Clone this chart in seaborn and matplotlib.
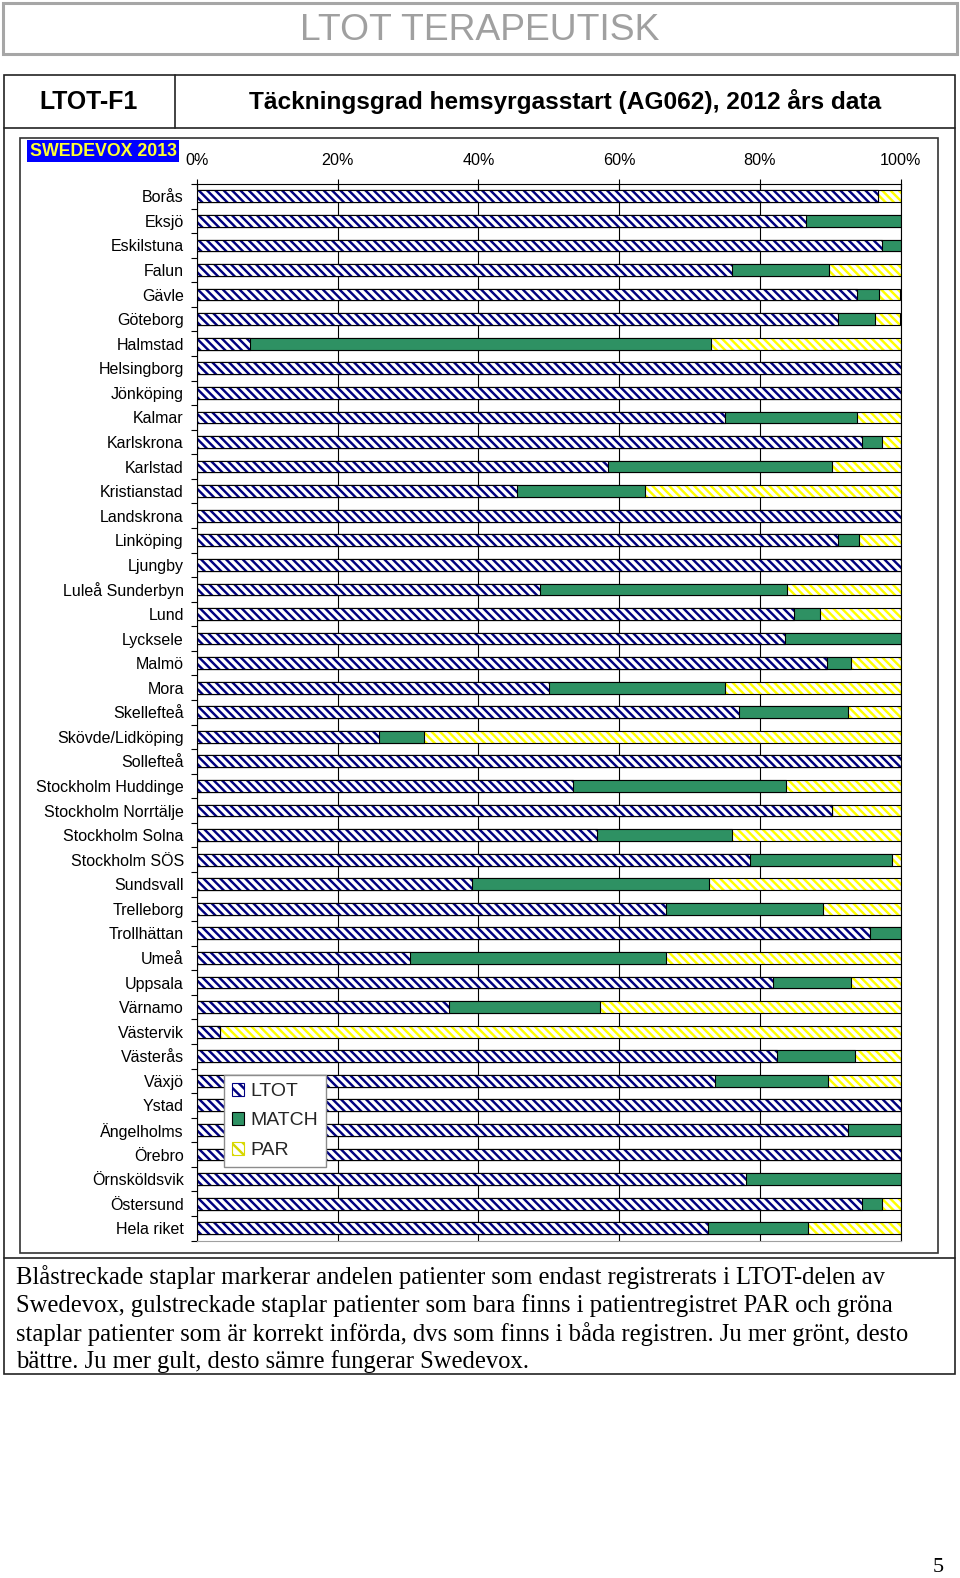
import numpy as np
import pandas as pd
import matplotlib
matplotlib.use("Agg")
import matplotlib.pyplot as plt
import seaborn as sns
from matplotlib.patches import Rectangle, Patch
from matplotlib.lines import Line2D
from matplotlib import font_manager
from matplotlib.ticker import FixedLocator

# ---------------- data ----------------
categories = ["Borås", "Eksjö", "Eskilstuna", "Falun", "Gävle", "Göteborg", "Halmstad",
              "Helsingborg", "Jönköping", "Kalmar", "Karlskrona", "Karlstad", "Kristianstad",
              "Landskrona", "Linköping", "Ljungby", "Luleå Sunderbyn", "Lund", "Lycksele",
              "Malmö", "Mora", "Skellefteå", "Skövde/Lidköping", "Sollefteå",
              "Stockholm Huddinge", "Stockholm Norrtälje", "Stockholm Solna", "Stockholm SÖS",
              "Sundsvall", "Trelleborg", "Trollhättan", "Umeå", "Uppsala", "Värnamo",
              "Västervik", "Västerås", "Växjö", "Ystad", "Ängelholms", "Örebro",
              "Örnsköldsvik", "Östersund", "Hela riket"]
ltot = [96.8, 86.5, 97.3, 76.0, 93.8, 91.1, 7.6, 100, 100, 75.0, 94.5, 58.4, 45.5, 100, 91.1,
        100, 48.7, 84.8, 83.6, 89.6, 50.1, 77.0, 25.9, 100, 53.4, 90.2, 56.8, 78.6, 39.1,
        66.7, 95.7, 30.3, 81.9, 35.8, 3.3, 82.4, 73.7, 100, 92.5, 100, 78.0, 94.5, 72.7]
match = [0, 13.5, 2.7, 13.8, 3.1, 5.3, 65.5, 0, 0, 18.8, 2.8, 31.8, 18.2, 0, 3.0,
         0, 35.1, 3.8, 16.4, 3.4, 24.9, 15.5, 6.4, 0, 30.3, 0, 19.3, 20.2, 33.7,
         22.3, 4.3, 36.4, 11.0, 21.5, 0, 11.1, 16.0, 0, 7.5, 0, 22.0, 2.8, 14.1]
par = [3.2, 0, 0, 10.2, 3.1, 3.6, 26.9, 0, 0, 6.2, 2.7, 9.8, 36.3, 0, 5.9,
       0, 16.2, 11.4, 0, 7.0, 25.0, 7.5, 67.7, 0, 16.3, 9.8, 23.9, 1.2, 27.2,
       11.0, 0, 33.3, 7.1, 42.7, 96.7, 6.5, 10.3, 0, 0, 0, 0, 2.7, 13.2]
series_names = ["LTOT", "MATCH", "PAR"]
x_ticks = [0, 20, 40, 60, 80, 100]
x_tick_labels = ["0%", "20%", "40%", "60%", "80%", "100%"]

page_title = "LTOT TERAPEUTISK"
code_label = "LTOT-F1"
chart_title = "Täckningsgrad hemsyrgasstart (AG062), 2012 års data"
badge = "SWEDEVOX 2013"
caption_lines = [
    "Blåstreckade staplar markerar andelen patienter som endast registrerats i LTOT-delen av",
    "Swedevox, gulstreckade staplar patienter som bara finns i patientregistret PAR och gröna",
    "staplar patienter som är korrekt införda, dvs som finns i båda registren. Ju mer grönt, desto",
    "bättre. Ju mer gult, desto sämre fungerar Swedevox.",
]
page_number = "5"

df = pd.DataFrame({"category": categories, "LTOT": ltot, "MATCH": match, "PAR": par})
df["cum_ltot"] = df["LTOT"]
df["cum_match"] = df["LTOT"] + df["MATCH"]
df["cum_total"] = df["LTOT"] + df["MATCH"] + df["PAR"]

# ---------------- style ----------------
sns.set_theme(style="white")
avail = {f.name for f in font_manager.fontManager.ttflist}
SANS = "Liberation Sans" if "Liberation Sans" in avail else "DejaVu Sans"
NARROW = "Liberation Sans Narrow" if "Liberation Sans Narrow" in avail else SANS
SERIF = "Liberation Serif" if "Liberation Serif" in avail else "DejaVu Serif"
plt.rcParams["font.family"] = [SANS, "DejaVu Sans"]
plt.rcParams["hatch.linewidth"] = 1.75

W, H = 960, 1578
fig = plt.figure(figsize=(W / 100, H / 100), dpi=100)
fig.patch.set_facecolor("white")


def fx(px):
    return px / W


def fy(py):
    return 1 - py / H


def box(x0, y0, x1, y1, color, lw):
    fig.add_artist(Rectangle((fx(x0), fy(y1)), fx(x1) - fx(x0), fy(y0) - fy(y1),
                             transform=fig.transFigure, fill=False, edgecolor=color, lw=lw))


def hline(x0, x1, y, color, lw):
    fig.add_artist(Line2D([fx(x0), fx(x1)], [fy(y), fy(y)], transform=fig.transFigure,
                          color=color, lw=lw))


def vline(x, y0, y1, color, lw):
    fig.add_artist(Line2D([fx(x), fx(x)], [fy(y0), fy(y1)], transform=fig.transFigure,
                          color=color, lw=lw))


renderer = fig.canvas.get_renderer()


def fit(t, target_px):
    w = t.get_window_extent(renderer).width
    t.set_fontsize(t.get_fontsize() * target_px / w)
    return t.get_fontsize()


# page frame elements
box(3, 3, 957, 54, "#A6A6A6", 2.2)
t = fig.text(fx(480), fy(31), page_title, ha="center", va="center", color="#A0A0A0",
             fontsize=30, family=[NARROW, "DejaVu Sans"])
fit(t, 359)

box(4, 75, 955, 1374, "#222222", 1.2)
hline(4, 955, 128, "#222222", 1.2)
vline(175, 75, 128, "#222222", 1.2)
hline(4, 955, 1258, "#222222", 1.2)
box(20, 138, 938, 1253, "#333333", 1.2)

t = fig.text(fx(89), fy(102), code_label, ha="center", va="center", fontsize=15,
             fontweight="bold", color="black")
fit(t, 99)
t = fig.text(fx(565), fy(102), chart_title, ha="center", va="center", fontsize=15,
             fontweight="bold", color="black")
fit(t, 634)

# caption
cap_texts = []
for i, line in enumerate(caption_lines):
    cap_texts.append(fig.text(fx(16), fy(1277 + 28.3 * i), line, ha="left", va="center",
                              fontsize=16, family=[SERIF, "DejaVu Serif"], color="black"))
fs = fit(cap_texts[2], 892)
for ct in cap_texts:
    ct.set_fontsize(fs)

fig.text(fx(938), fy(1567), page_number, ha="center", va="center", fontsize=16,
         family=[SERIF, "DejaVu Serif"], color="black")

# badge
fig.text(fx(103), fy(151), badge, ha="center", va="center", fontsize=12.8, fontweight="bold",
         color="#FFFF33",
         bbox=dict(boxstyle="square,pad=0.15", facecolor="#0000FF", edgecolor="none"))

# ---------------- chart ----------------
ax_left, ax_right, ax_top, ax_bottom = 197, 900.5, 184, 1240.5
ax = fig.add_axes([fx(ax_left), fy(ax_bottom), fx(ax_right) - fx(ax_left),
                   fy(ax_top) - fy(ax_bottom)])
ax.set_facecolor("white")

NAVY = "#000080"
YELLOW = "#FFFF00"
GREEN = "#2E9163"
BAR_H = 0.48
HATCH = "\\\\\\\\"

layers = [
    ("cum_total", dict(face="white", edge=YELLOW, hatch=HATCH)),
    ("cum_match", dict(face=GREEN, edge=GREEN, hatch=None)),
    ("cum_ltot", dict(face="white", edge=NAVY, hatch=HATCH)),
]
for col, st in layers:
    n0 = len(ax.patches)
    sns.barplot(data=df, x=col, y="category", order=categories, orient="h",
                color="white", width=BAR_H, errorbar=None, saturation=1, ax=ax)
    new = ax.patches[n0:]
    for p in new:
        p.set_facecolor(st["face"])
        p.set_edgecolor(st["edge"])
        if st["hatch"]:
            p.set_hatch(st["hatch"])
        p.set_linewidth(0)
    for p in new:
        x, y = p.get_xy()
        ax.add_patch(Rectangle((x, y), p.get_width(), p.get_height(), fill=False,
                               edgecolor="black", lw=0.8))

ax.set_xlim(0, 100)
ax.set_ylim(len(categories) - 0.5, -0.5)
ax.set_xlabel("")
ax.set_ylabel("")

ax.xaxis.tick_top()
ax.set_xticks(x_ticks)
ax.set_xticklabels(x_tick_labels)
ax.tick_params(axis="x", which="major", direction="inout", length=7, width=0.8,
               color="black", labelsize=11.6, pad=8, labelcolor="black", top=True, bottom=False)
ax.xaxis.grid(True, color="black", lw=0.8)
ax.yaxis.grid(False)
ax.set_axisbelow(True)

ax.tick_params(axis="y", which="major", length=0, labelsize=11.5, pad=9.5, labelcolor="black")
ax.yaxis.set_minor_locator(FixedLocator(np.arange(-0.5, len(categories), 1.0)))
ax.tick_params(axis="y", which="minor", left=True, direction="out", length=4.5, width=0.8,
               color="black")

for s in ["left", "top", "right"]:
    ax.spines[s].set_visible(True)
    ax.spines[s].set_color("black")
    ax.spines[s].set_linewidth(0.8)
ax.spines["bottom"].set_visible(True)
ax.spines["bottom"].set_color("#A0A0A0")
ax.spines["bottom"].set_linewidth(0.8)

handles = [
    Patch(facecolor="white", edgecolor=NAVY, hatch="\\\\\\", lw=0.8, label=series_names[0]),
    Patch(facecolor=GREEN, edgecolor="black", lw=0.8, label=series_names[1]),
    Patch(facecolor="white", edgecolor="#D8D800", hatch="\\\\\\", lw=0.8, label=series_names[2]),
]
axw = ax_right - ax_left
axh = ax_bottom - ax_top
leg = ax.legend(handles=handles, loc="upper left",
                bbox_to_anchor=((224 - ax_left) / axw, (ax_bottom - 1075) / axh),
                borderaxespad=0, fontsize=14, frameon=True, fancybox=False,
                edgecolor="#8C8C8C", framealpha=1, handlelength=0.65, handleheight=0.65,
                handletextpad=0.3, labelspacing=0.62, borderpad=0.4)
leg.get_frame().set_linewidth(1.0)

fig.savefig("out.png", dpi=100, facecolor="white")
